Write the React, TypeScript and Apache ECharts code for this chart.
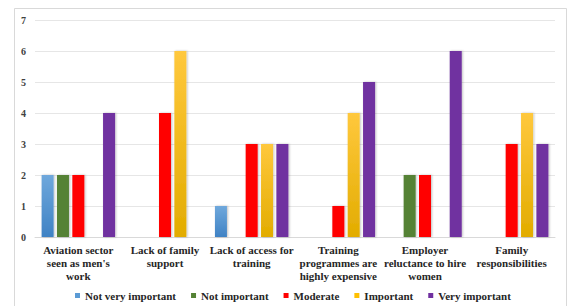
import React, { useEffect, useRef } from "react";
import * as echarts from "echarts";

const categories = [
  "Aviation sector\nseen as men's\nwork",
  "Lack of family\nsupport",
  "Lack of access for\ntraining",
  "Training\nprogrammes are\nhighly expensive",
  "Employer\nreluctance to hire\nwomen",
  "Family\nresponsibilities",
];
const seriesNames = ["Not very important", "Not important", "Moderate", "Important", "Very important"];
const notVeryImportant = [2, 0, 1, 0, 0, 0];
const notImportant = [2, 0, 0, 0, 2, 0];
const moderate = [2, 4, 3, 1, 2, 3];
const important = [0, 6, 3, 4, 0, 4];
const veryImportant = [4, 0, 3, 5, 6, 3];
const yTicks = [0, 1, 2, 3, 4, 5, 6, 7];

const grad = (top: string, bottom: string) =>
  new echarts.graphic.LinearGradient(0, 0, 0, 1, [
    { offset: 0, color: top },
    { offset: 1, color: bottom },
  ]);

export default function App() {
  const ref = useRef<HTMLDivElement>(null);
  useEffect(() => {
    const chart = echarts.init(ref.current!, null, { renderer: "svg" });
    const font = "Liberation Serif";
    const colors = [
      grad("#6FA8DC", "#3F82C4"),
      "#548235",
      "#FF0000",
      grad("#FFC83D", "#E2AC00"),
      "#7030A0",
    ];
    const legendColors = ["#5B9BD5", "#548235", "#FF0000", "#FFC000", "#7030A0"];
    const data = [notVeryImportant, notImportant, moderate, important, veryImportant];
    chart.setOption({
      animation: false,
      backgroundColor: "#ffffff",
      color: legendColors,
      textStyle: { fontFamily: font },
      graphic: [
        {
          type: "rect",
          shape: { x: 14.5, y: 8.5, width: 552, height: 310 },
          style: { fill: "none", stroke: "#d9d9d9", lineWidth: 1 },
          silent: true,
        },
      ],
      legend: {
        top: 285,
        left: 70,
        padding: 5,
        itemWidth: 5,
        itemHeight: 5,
        itemGap: 15,
        icon: "rect",
        textStyle: { fontFamily: font, fontWeight: "bold", fontSize: 11, color: "#262626" },
        data: seriesNames.map((n, i) => ({ name: n, itemStyle: { color: legendColors[i] } })),
      },
      grid: { left: 35, right: 16, top: 20, bottom: 69, containLabel: false },
      xAxis: {
        type: "category",
        data: categories,
        axisLine: { show: true, lineStyle: { color: "#d9d9d9" } },
        axisTick: { show: false },
        axisLabel: {
          interval: 0,
          fontFamily: font,
          fontWeight: "bold",
          fontSize: 11,
          color: "#262626",
          lineHeight: 13,
          margin: 6,
        },
      },
      yAxis: {
        type: "value",
        min: yTicks[0],
        max: yTicks[yTicks.length - 1],
        interval: 1,
        axisLine: { show: false },
        axisTick: { show: false },
        splitLine: { lineStyle: { color: "#e6e6e6" } },
        axisLabel: { fontFamily: font, fontWeight: "bold", fontSize: 10, color: "#404040", margin: 9 },
      },
      series: seriesNames.map((n, i) => ({
        name: n,
        type: "bar",
        data: data[i],
        barWidth: 12,
        barGap: "28%",
        itemStyle: {
          color: colors[i],
          shadowColor: "rgba(0,0,0,0.25)",
          shadowBlur: 2,
          shadowOffsetX: 1,
          shadowOffsetY: 0,
        },
      })),
    });
    return () => chart.dispose();
  }, []);
  return <div ref={ref} style={{ width: 571, height: 306, position: "absolute", left: 0, top: 0 }} />;
}
